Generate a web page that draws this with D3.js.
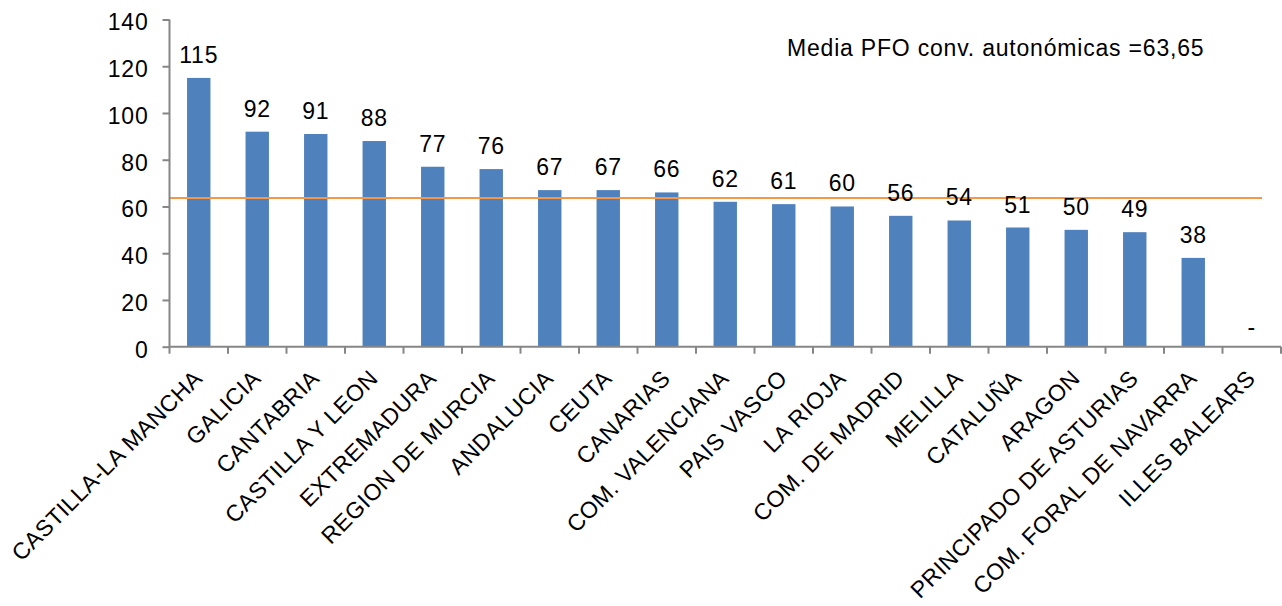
<!DOCTYPE html>
<html><head><meta charset="utf-8">
<script src="https://cdn.jsdelivr.net/npm/d3@7"></script>
<style>body{margin:0;background:#fff}svg{display:block;font-family:"Liberation Sans",Arial,sans-serif}</style>
</head><body><svg id="c" width="1282" height="606"></svg>
<script>
const categories = ["CASTILLA-LA MANCHA","GALICIA","CANTABRIA","CASTILLA Y LEON","EXTREMADURA","REGION DE MURCIA","ANDALUCIA","CEUTA","CANARIAS","COM. VALENCIANA","PAIS VASCO","LA RIOJA","COM. DE MADRID","MELILLA","CATALUÑA","ARAGON","PRINCIPADO DE ASTURIAS","COM. FORAL DE NAVARRA","ILLES BALEARS"];
const values = [115,92,91,88,77,76,67,67,66,62,61,60,56,54,51,50,49,38,null];
const mean = 63.65;
const meanLabel = "Media PFO conv. autonómicas =63,65";
const yTicks = [0,20,40,60,80,100,120,140];

const svg = d3.select("#c");
const L = 169.5, R = 1281, T = 19.5, B = 346.7;
const FS = 23, LS = "0.8px";
const x = d3.scaleBand().domain(categories).range([L, R]).paddingInner(0.6).paddingOuter(0.3);
const xb = d3.scaleBand().domain(categories).range([L, R]);
const y = d3.scaleLinear().domain([0,140]).range([B, T]);

// bars
svg.append("g").selectAll("rect").data(categories.map((c,i)=>({c,v:values[i]})).filter(d=>d.v!=null))
  .enter().append("rect")
  .attr("x", d=>x(d.c)).attr("width", x.bandwidth())
  .attr("y", d=>y(d.v)).attr("height", d=>B-y(d.v))
  .attr("fill","#4F81BD");

// mean line
svg.append("line").attr("x1", L).attr("x2", 1262).attr("y1", y(mean)).attr("y2", y(mean))
  .attr("stroke","#F79646").attr("stroke-width",2);

// data labels
svg.append("g").selectAll("text").data(categories.map((c,i)=>({c,v:values[i]})))
  .enter().append("text")
  .attr("x", d=>xb(d.c)+xb.bandwidth()/2)
  .attr("y", d=> d.v==null ? B-12 : y(d.v)-15)
  .attr("text-anchor","middle").attr("font-size",FS).attr("letter-spacing",LS).attr("fill","#000")
  .text(d=> d.v==null ? "-" : d.v);

// y axis
const ya = svg.append("g").attr("transform",`translate(${L},0)`)
  .call(d3.axisLeft(y).tickValues(yTicks).tickSize(7).tickPadding(14));
ya.selectAll("text").attr("font-size",FS).attr("letter-spacing",LS).attr("fill","#000").attr("font-family","Liberation Sans, Arial").attr("dy","0.45em");
ya.selectAll("line,path").attr("stroke","#868686").attr("stroke-width",2);
ya.select("path").attr("d",`M0,${T}V${B}`);

// x axis
const xa = svg.append("g").attr("transform",`translate(0,${B})`)
  .call(d3.axisBottom(xb).tickSize(0).tickFormat(d=>d));
xa.select("path").attr("d",`M${L},0H${R}`).attr("stroke","#868686").attr("stroke-width",2);
xa.selectAll(".bt").data(d3.range(categories.length+1)).enter().append("line").attr("class","bt")
  .attr("x1",i=>L+i*xb.step()).attr("x2",i=>L+i*xb.step()).attr("y1",0).attr("y2",7)
  .attr("stroke","#868686").attr("stroke-width",2);
xa.selectAll(".tick text").attr("font-size",FS).attr("letter-spacing","0.5px").attr("fill","#000").attr("font-family","Liberation Sans, Arial")
  .attr("text-anchor","end").attr("dy",0).attr("y",0)
  .attr("transform","translate(5,33) rotate(-45)");

// annotation
svg.append("text").attr("x",787).attr("y",56).attr("font-size",FS).attr("letter-spacing",LS).attr("fill","#000").text(meanLabel);
</script></body></html>
